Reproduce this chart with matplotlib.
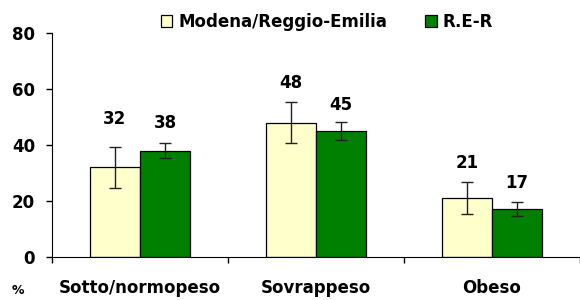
import numpy as np
import matplotlib.pyplot as plt

plt.rcParams['font.family'] = ['DejaVu Sans']
plt.rcParams['font.weight'] = 'bold'

categories = ['Sotto/normopeso', 'Sovrappeso', 'Obeso']
series_names = ['Modena/Reggio-Emilia', 'R.E-R']
modena = [32, 48, 21]
modena_err = [7.2, 7.4, 5.8]
rer = [38, 45, 17]
rer_err = [2.7, 3.2, 2.5]
label_gap = [20, 13.5, 13.5]   # distanza etichetta (pt) sopra la barra d'errore
label_gap_rer = [14.5, 12.5, 14]

fig = plt.figure(figsize=(5.8, 3.0), dpi=100)
ax = fig.add_axes([52 / 580, 43 / 300, 528 / 580, 224 / 300])

x = np.arange(len(categories))
w = 0.286
colors = ['#FFFFCC', '#008000']
for vals, errs, gaps, off, col, name in [
        (modena, modena_err, label_gap, -w / 2, colors[0], series_names[0]),
        (rer, rer_err, label_gap_rer, w / 2, colors[1], series_names[1])]:
    ax.bar(x + off, vals, w, color=col, edgecolor='black', linewidth=0.9, label=name,
           yerr=errs, error_kw=dict(ecolor='#222222', elinewidth=1, capsize=4, capthick=1))
    for xi, v, e, g in zip(x + off, vals, errs, gaps):
        ax.annotate(str(v), (xi, v + e), xytext=(0, g), textcoords='offset points',
                    ha='center', va='center', fontsize=12, fontweight='bold')

ax.set_ylim(0, 80)
ax.set_yticks([0, 20, 40, 60, 80])
ax.set_xlim(-0.5, 2.46)
ax.set_xticks([-0.5, 0.5, 1.5, 2.5], minor=False)
ax.set_xticklabels([])
for xi, c in zip(x, categories):
    ax.text(xi, -0.138, c, transform=ax.get_xaxis_transform(), ha='center', va='center',
            fontsize=12, fontweight='bold')
fig.text(18 / 580, 1 - 290 / 300, '%', ha='center', va='center', fontsize=9, fontweight='bold')

ax.spines['top'].set_visible(False)
ax.spines['right'].set_visible(False)
ax.tick_params(axis='y', labelsize=12, length=4.3, width=1, pad=8)
ax.tick_params(axis='x', length=4.3, width=1)
for t in ax.get_yticklabels():
    t.set_fontweight('bold')

ax.legend(loc='upper center', bbox_to_anchor=(327 / 580, 1 - 1 / 300), bbox_transform=fig.transFigure,
          ncol=2, frameon=False, fontsize=12, handlelength=0.7, handleheight=0.7,
          handletextpad=0.35, columnspacing=2.3, borderaxespad=0.3)

fig.savefig('out.png', dpi=100)
